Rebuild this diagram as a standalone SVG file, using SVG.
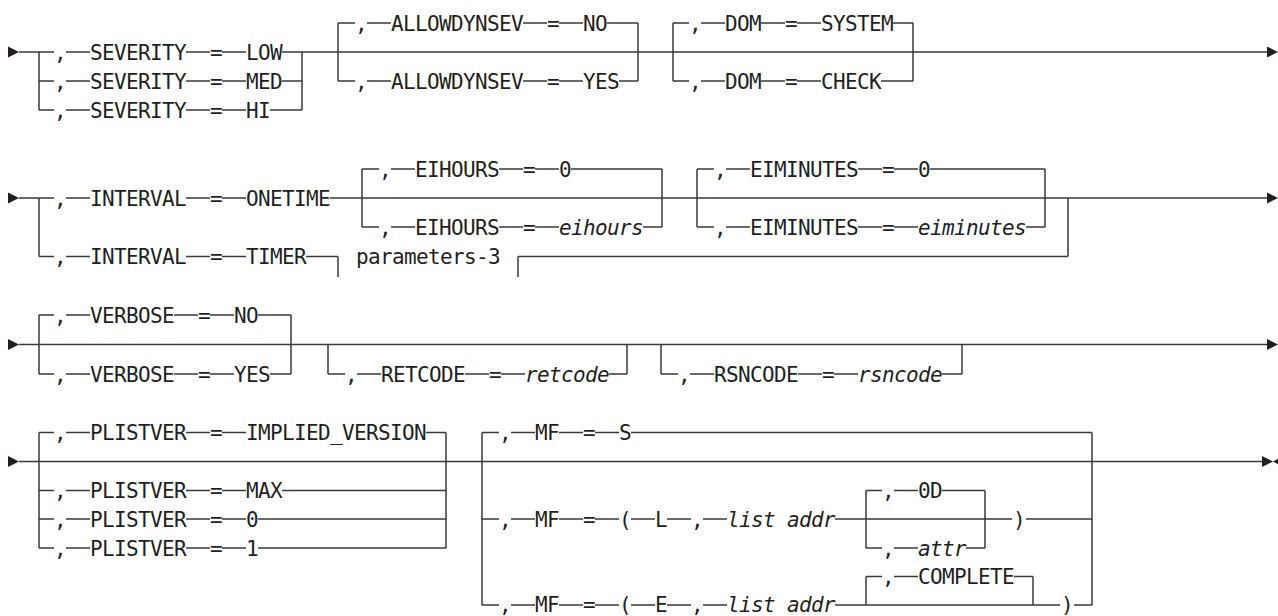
<svg xmlns="http://www.w3.org/2000/svg" xmlns:xlink="http://www.w3.org/1999/xlink" width="1278" height="616" viewBox="0 0 1278 616">
<style>
.t{font-family:"DejaVu Sans Mono","Liberation Mono",monospace;font-size:21px;letter-spacing:-0.64px;fill:#231f20}
.i{font-style:italic}
.c{fill:none;stroke:#3a3a3a;stroke-width:1.5}
.a{fill:#231f20}
</style>
<defs>
<path id="ar" d="M0,-5.5 L11,0 L0,5.5 Z"/>
<path id="al" d="M0,0 L10,-5.5 L10,5.5 Z"/>
</defs>
<rect width="1278" height="616" fill="#ffffff"/>

<g id="connectors" class="c">
<!-- Row 1 -->
<path d="M19 52H54M66 52H90M186 52H210M222 52H246M282 52H1268"/>
<path d="M39 52V110M302 52V110"/>
<path d="M39 81H54M66 81H90M186 81H210M222 81H246M282 81H302"/>
<path d="M39 110H54M66 110H90M186 110H210M222 110H246M270 110H302"/>
<path d="M338 23V81M638 23V81"/>
<path d="M338 23H355M367 23H391M523 23H547M559 23H583M607 23H638"/>
<path d="M338 81H355M367 81H391M523 81H547M559 81H583M619 81H638"/>
<path d="M673 23V81M913 23V81"/>
<path d="M673 23H689M701 23H725M761 23H785M797 23H821M893 23H913"/>
<path d="M673 81H689M701 81H725M761 81H785M797 81H821M881 81H913"/>
<!-- Row 2 -->
<path d="M19 198H54M66 198H90M186 198H210M222 198H246M330 198H1268"/>
<path d="M39 198V256.5"/>
<path d="M39 256.5H54M66 256.5H90M186 256.5H210M222 256.5H246M306 256.5H338"/>
<path d="M338 256.5V277M518 256.5V277M518 256.5H1068M1068 198V256.5"/>
<path d="M362 169V227M662 169V227"/>
<path d="M362 169H379M391 169H415M499 169H523M535 169H559M571 169H662"/>
<path d="M362 227H379M391 227H415M499 227H523M535 227H559M643 227H662"/>
<path d="M697 169V227M1045 169V227"/>
<path d="M697 169H714M726 169H750M858 169H882M894 169H918M930 169H1045"/>
<path d="M697 227H714M726 227H750M858 227H882M894 227H918M1026 227H1045"/>
<!-- Row 3 -->
<path d="M19 344.5H1268"/>
<path d="M39 315V374M291 315V374"/>
<path d="M39 315H54M66 315H90M174 315H198M210 315H234M258 315H291"/>
<path d="M39 374H54M66 374H90M174 374H198M210 374H234M270 374H291"/>
<path d="M328 344.5V374M627 344.5V374"/>
<path d="M328 374H345M357 374H381M465 374H489M501 374H525M609 374H627"/>
<path d="M661 344.5V374M962 344.5V374"/>
<path d="M661 374H678M690 374H714M798 374H822M834 374H858M942 374H962"/>
<!-- Row 4 -->
<path d="M19 461.5H1262"/>
<path d="M39 432.5V548M446 432.5V548"/>
<path d="M39 432.5H54M66 432.5H90M186 432.5H210M222 432.5H246M426 432.5H446"/>
<path d="M39 490.5H54M66 490.5H90M186 490.5H210M222 490.5H246M282 490.5H446"/>
<path d="M39 519H54M66 519H90M186 519H210M222 519H246M258 519H446"/>
<path d="M39 548H54M66 548H90M186 548H210M222 548H246M258 548H446"/>
<path d="M482 432.5V605M1092 432.5V605"/>
<path d="M482 432.5H499M511 432.5H535M559 432.5H583M595 432.5H619M631 432.5H1092"/>
<path d="M482 519H499M511 519H535M559 519H583M595 519H619M631 519H655M667 519H691M703 519H727M835 519H1012M1026 519H1092"/>
<path d="M866 490.5V548M985 490.5V548"/>
<path d="M866 490.5H882M894 490.5H918M942 490.5H985"/>
<path d="M866 548H882M894 548H918M966 548H985"/>
<path d="M482 605H499M511 605H535M559 605H583M595 605H619M631 605H655M667 605H691M703 605H727M835 605H1060M1074 605H1092"/>
<path d="M866 576.5V605M1033 576.5V605"/>
<path d="M866 576.5H882M894 576.5H918M1014 576.5H1033"/>
</g>

<g id="terminals" class="a">
<use xlink:href="#ar" x="8" y="52"/>
<use xlink:href="#ar" x="1267" y="52"/>
<use xlink:href="#ar" x="8" y="198"/>
<use xlink:href="#ar" x="1267" y="198"/>
<use xlink:href="#ar" x="8" y="344.5"/>
<use xlink:href="#ar" x="1267" y="344.5"/>
<use xlink:href="#ar" x="8" y="461.5"/>
<use xlink:href="#ar" x="1262" y="461.5"/>
<use xlink:href="#al" x="1273" y="461.5"/>
</g>

<g id="severity-low" class="t"><text x="54" y="59.6">,</text><text x="90" y="59.6">SEVERITY</text><text x="210" y="59.6">=</text><text x="246" y="59.6">LOW</text></g>
<g id="severity-med" class="t"><text x="54" y="88.6">,</text><text x="90" y="88.6">SEVERITY</text><text x="210" y="88.6">=</text><text x="246" y="88.6">MED</text></g>
<g id="severity-hi" class="t"><text x="54" y="117.6">,</text><text x="90" y="117.6">SEVERITY</text><text x="210" y="117.6">=</text><text x="246" y="117.6">HI</text></g>
<g id="allowdynsev-no" class="t"><text x="355" y="30.6">,</text><text x="391" y="30.6">ALLOWDYNSEV</text><text x="547" y="30.6">=</text><text x="583" y="30.6">NO</text></g>
<g id="allowdynsev-yes" class="t"><text x="355" y="88.6">,</text><text x="391" y="88.6">ALLOWDYNSEV</text><text x="547" y="88.6">=</text><text x="583" y="88.6">YES</text></g>
<g id="dom-system" class="t"><text x="689" y="30.6">,</text><text x="725" y="30.6">DOM</text><text x="785" y="30.6">=</text><text x="821" y="30.6">SYSTEM</text></g>
<g id="dom-check" class="t"><text x="689" y="88.6">,</text><text x="725" y="88.6">DOM</text><text x="785" y="88.6">=</text><text x="821" y="88.6">CHECK</text></g>

<g id="interval-onetime" class="t"><text x="54" y="205.6">,</text><text x="90" y="205.6">INTERVAL</text><text x="210" y="205.6">=</text><text x="246" y="205.6">ONETIME</text></g>
<g id="interval-timer" class="t"><text x="54" y="264.1">,</text><text x="90" y="264.1">INTERVAL</text><text x="210" y="264.1">=</text><text x="246" y="264.1">TIMER</text></g>
<g id="parameters-3" class="t"><text x="356" y="264.1">parameters-3</text></g>
<g id="eihours-0" class="t"><text x="379" y="176.6">,</text><text x="415" y="176.6">EIHOURS</text><text x="523" y="176.6">=</text><text x="559" y="176.6">0</text></g>
<g id="eihours-var" class="t"><text x="379" y="234.6">,</text><text x="415" y="234.6">EIHOURS</text><text x="523" y="234.6">=</text><text class="i" x="559" y="234.6">eihours</text></g>
<g id="eiminutes-0" class="t"><text x="714" y="176.6">,</text><text x="750" y="176.6">EIMINUTES</text><text x="882" y="176.6">=</text><text x="918" y="176.6">0</text></g>
<g id="eiminutes-var" class="t"><text x="714" y="234.6">,</text><text x="750" y="234.6">EIMINUTES</text><text x="882" y="234.6">=</text><text class="i" x="918" y="234.6">eiminutes</text></g>

<g id="verbose-no" class="t"><text x="54" y="322.6">,</text><text x="90" y="322.6">VERBOSE</text><text x="198" y="322.6">=</text><text x="234" y="322.6">NO</text></g>
<g id="verbose-yes" class="t"><text x="54" y="381.6">,</text><text x="90" y="381.6">VERBOSE</text><text x="198" y="381.6">=</text><text x="234" y="381.6">YES</text></g>
<g id="retcode" class="t"><text x="345" y="381.6">,</text><text x="381" y="381.6">RETCODE</text><text x="489" y="381.6">=</text><text class="i" x="525" y="381.6">retcode</text></g>
<g id="rsncode" class="t"><text x="678" y="381.6">,</text><text x="714" y="381.6">RSNCODE</text><text x="822" y="381.6">=</text><text class="i" x="858" y="381.6">rsncode</text></g>

<g id="plistver-implied" class="t"><text x="54" y="440.1">,</text><text x="90" y="440.1">PLISTVER</text><text x="210" y="440.1">=</text><text x="246" y="440.1">IMPLIED_VERSION</text></g>
<g id="plistver-max" class="t"><text x="54" y="498.1">,</text><text x="90" y="498.1">PLISTVER</text><text x="210" y="498.1">=</text><text x="246" y="498.1">MAX</text></g>
<g id="plistver-0" class="t"><text x="54" y="526.6">,</text><text x="90" y="526.6">PLISTVER</text><text x="210" y="526.6">=</text><text x="246" y="526.6">0</text></g>
<g id="plistver-1" class="t"><text x="54" y="555.6">,</text><text x="90" y="555.6">PLISTVER</text><text x="210" y="555.6">=</text><text x="246" y="555.6">1</text></g>
<g id="mf-s" class="t"><text x="499" y="440.1">,</text><text x="535" y="440.1">MF</text><text x="583" y="440.1">=</text><text x="619" y="440.1">S</text></g>
<g id="mf-l" class="t"><text x="499" y="526.6">,</text><text x="535" y="526.6">MF</text><text x="583" y="526.6">=</text><text x="619" y="526.6">(</text><text x="655" y="526.6">L</text><text x="691" y="526.6">,</text><text class="i" x="727" y="526.6">list addr</text><text x="1013" y="526.6">)</text></g>
<g id="mf-l-0d" class="t"><text x="882" y="498.1">,</text><text x="918" y="498.1">0D</text></g>
<g id="mf-l-attr" class="t"><text x="882" y="555.6">,</text><text class="i" x="918" y="555.6">attr</text></g>
<g id="mf-e" class="t"><text x="499" y="612.4">,</text><text x="535" y="612.4">MF</text><text x="583" y="612.4">=</text><text x="619" y="612.4">(</text><text x="655" y="612.4">E</text><text x="691" y="612.4">,</text><text class="i" x="727" y="612.4">list addr</text><text x="1061" y="612.4">)</text></g>
<g id="mf-e-complete" class="t"><text x="882" y="584.1">,</text><text x="918" y="584.1">COMPLETE</text></g>
</svg>
